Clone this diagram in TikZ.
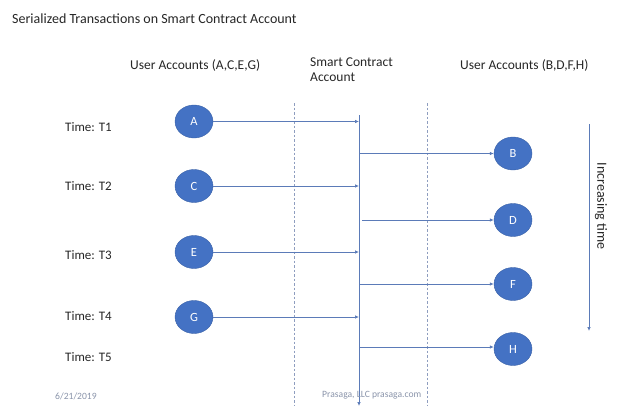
\documentclass[tikz,border=0pt]{standalone}
\usepackage{fontspec}
\setmainfont{Carlito}
\usetikzlibrary{arrows.meta,shapes.geometric}
\definecolor{cblue}{HTML}{4472C4}
\definecolor{lblue}{HTML}{5B7BB8}
\definecolor{dgray}{HTML}{8E9DBF}
\definecolor{foot}{HTML}{8A94AA}
\begin{document}
\begin{tikzpicture}[x=1pt,y=-1pt,
  acct/.style={ellipse,fill=cblue,draw=cblue!85!black,line width=0.4pt,minimum width=38pt,minimum height=33pt,inner sep=0pt,text=white,font=\fontsize{12.5}{14}\selectfont},
  lbl/.style={font=\fontsize{13.5}{15}\selectfont,text=black!85,inner sep=0pt},
  tlbl/.style={font=\fontsize{13}{15}\selectfont,text=black!85,inner sep=0pt},
  ftr/.style={font=\fontsize{9.6}{11}\selectfont,text=foot,anchor=west,inner sep=0pt},
  tx/.style={draw=lblue,line width=0.7pt,-{Latex[length=4pt,width=3.5pt]}},
  sep/.style={draw=dgray,line width=0.8pt,dash pattern=on 2.5pt off 2pt}]
\useasboundingbox (0,0) rectangle (624,412);
\node[font=\fontsize{14}{16}\selectfont,text=black!85,inner sep=0pt,anchor=west] (title) at (12,19) {Serialized Transactions on Smart Contract Account};
\node[lbl,anchor=west] (ul) at (130,65) {User Accounts (A,C,E,G)};
\node[lbl,anchor=north west,align=left] (sc) at (310,58) {Smart Contract\\Account};
\node[lbl,anchor=west] (ur) at (460,65) {User Accounts (B,D,F,H)};
\coordinate (d1t) at (294,103); \coordinate (d1b) at (294,406);
\coordinate (d2t) at (427,103); \coordinate (d2b) at (427,406);
\draw[sep] (d1t) -- (d1b);
\draw[sep] (d2t) -- (d2b);
\node[tlbl,anchor=west] (t1) at (65,127) {Time: T1};
\node[tlbl,anchor=west] (t2) at (65,186) {Time: T2};
\node[tlbl,anchor=west] (t3) at (65,255) {Time: T3};
\node[tlbl,anchor=west] (t4) at (65,316) {Time: T4};
\node[tlbl,anchor=west] (t5) at (65,357) {Time: T5};
\node[acct] (A) at (194,121.5) {A};
\node[acct] (C) at (194,186) {C};
\node[acct] (E) at (194,252) {E};
\node[acct] (G) at (194,317) {G};
\node[acct] (B) at (513,153.5) {B};
\node[acct] (D) at (513,220) {D};
\node[acct] (F) at (513,284) {F};
\node[acct] (H) at (513,349) {H};
\coordinate (st) at (359,115); \coordinate (sb) at (359,406);
\draw[tx] (st) -- (sb);
\coordinate (ia) at (359,121.5); \coordinate (ic) at (359,186);
\coordinate (ie) at (359,252); \coordinate (ig) at (359,317);
\draw[tx] (A) -- (ia);
\draw[tx] (C) -- (ic);
\draw[tx] (E) -- (ie);
\draw[tx] (G) -- (ig);
\coordinate (ob) at (359,153.5); \coordinate (od) at (362,220);
\coordinate (of) at (359,284); \coordinate (oh) at (359,347);
\draw[tx] (ob) -- (B.west);
\draw[tx] (od) -- (D.west);
\draw[tx] (of) -- (F.west);
\draw[tx] (oh) -- (H.west |- oh);
\coordinate (tt) at (589,124); \coordinate (tb) at (589,331);
\draw[tx] (tt) -- (tb);
\node[font=\fontsize{14}{16}\selectfont,text=black!85,inner sep=0pt,rotate=-90] (it) at (601,206) {Increasing time};
\node[ftr] (date) at (55,396) {6/21/2019};
\node[ftr] (co) at (322,395) {Prasaga, LLC prasaga.com};
\end{tikzpicture}
\end{document}
